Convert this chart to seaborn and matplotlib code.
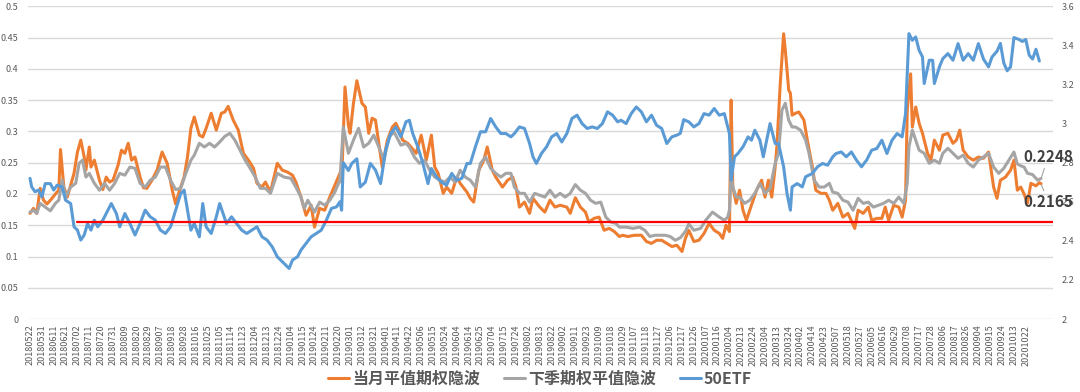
import numpy as np
import seaborn as sns
import matplotlib.pyplot as plt
from matplotlib.lines import Line2D

# trading-day tick labels, one every 7 trading days
dates = ['20180522', '20180531', '20180611', '20180621', '20180702', '20180711', '20180720', '20180731',
         '20180809', '20180820', '20180829', '20180907', '20180918', '20180928', '20181016', '20181025',
         '20181105', '20181114', '20181123', '20181204', '20181213', '20181224', '20190104', '20190115',
         '20190124', '20190211', '20190220', '20190301', '20190312', '20190321', '20190401', '20190411',
         '20190422', '20190506', '20190515', '20190524', '20190604', '20190614', '20190625', '20190704',
         '20190715', '20190724', '20190802', '20190813', '20190822', '20190902', '20190911', '20190923',
         '20191009', '20191018', '20191029', '20191107', '20191118', '20191127', '20191206', '20191217',
         '20191226', '20200107', '20200116', '20200204', '20200213', '20200224', '20200304', '20200313',
         '20200324', '20200402', '20200414', '20200423', '20200507', '20200518', '20200527', '20200605',
         '20200616', '20200629', '20200708', '20200717', '20200728', '20200806', '20200817', '20200826',
         '20200904', '20200915', '20200924', '20201013', '20201022']

# 当月平值期权隐波 (trading-day index, value)
m1_idx = [0, 2, 4, 6, 8, 10, 13, 15, 17, 18, 20, 22, 26, 28, 30, 32, 33, 35, 36, 38, 41, 43, 45, 47, 49,
          52, 54, 56, 58, 60, 62, 65, 67, 69, 72, 75, 78, 81, 84, 86, 88, 91, 93, 95, 97, 100, 102, 104,
          107, 110, 113, 115, 117, 120, 123, 126, 129, 132, 134, 137, 139, 142, 146, 149, 152, 155, 157,
          160, 163, 166, 168, 171, 174, 177, 180, 183, 184, 186, 188, 189, 191, 193, 196, 198, 200, 202,
          204, 206, 208, 211, 214, 216, 218, 220, 223, 225, 228, 231, 234, 237, 239, 241, 244, 246, 249,
          252, 254, 258, 260, 262, 265, 268, 270, 273, 275, 279, 282, 285, 287, 289, 292, 295, 297, 301,
          304, 307, 310, 313, 317, 319, 322, 325, 328, 330, 333, 336, 339, 342, 345, 348, 350, 353, 357,
          361, 364, 367, 370, 373, 376, 379, 382, 385, 387, 389, 392, 395, 398, 401, 404, 407, 409, 411,
          413, 414, 415, 417, 419, 421, 423, 426, 429, 432, 434, 436, 438, 440, 441, 443, 445, 446, 448,
          449, 450, 452, 454, 457, 459, 462, 464, 467, 470, 472, 474, 477, 480, 483, 487, 489, 492, 495,
          497, 500, 503, 505, 507, 510, 513, 515, 517, 518, 520, 521, 523, 525, 527, 530, 532, 534, 537,
          539, 542, 545, 547, 549, 551, 554, 557, 560, 563, 566, 569, 571, 573, 576, 579, 581, 583, 585,
          587, 589, 591, 594, 596, 597]
m1_val = [0.169, 0.177, 0.169, 0.209, 0.19, 0.184, 0.193, 0.2, 0.206, 0.271, 0.211, 0.195, 0.233, 0.267,
          0.286, 0.259, 0.238, 0.275, 0.243, 0.254, 0.222, 0.207, 0.227, 0.219, 0.222, 0.246, 0.27, 0.265,
          0.281, 0.254, 0.259, 0.227, 0.21, 0.209, 0.222, 0.238, 0.267, 0.249, 0.206, 0.184, 0.203, 0.227,
          0.259, 0.305, 0.323, 0.294, 0.291, 0.305, 0.329, 0.302, 0.329, 0.331, 0.34, 0.318, 0.302, 0.265,
          0.254, 0.241, 0.217, 0.211, 0.219, 0.203, 0.249, 0.238, 0.235, 0.23, 0.219, 0.195, 0.166, 0.182,
          0.147, 0.177, 0.174, 0.195, 0.214, 0.233, 0.219, 0.371, 0.31, 0.297, 0.345, 0.381, 0.345, 0.339,
          0.297, 0.321, 0.318, 0.281, 0.243, 0.286, 0.307, 0.313, 0.302, 0.286, 0.281, 0.275, 0.265, 0.294,
          0.254, 0.294, 0.243, 0.233, 0.201, 0.211, 0.201, 0.227, 0.217, 0.203, 0.193, 0.187, 0.238, 0.254,
          0.275, 0.238, 0.227, 0.211, 0.222, 0.227, 0.211, 0.179, 0.187, 0.169, 0.193, 0.179, 0.171, 0.19,
          0.179, 0.182, 0.179, 0.169, 0.194, 0.179, 0.171, 0.155, 0.161, 0.163, 0.142, 0.145, 0.14, 0.132,
          0.134, 0.132, 0.134, 0.134, 0.124, 0.121, 0.126, 0.126, 0.121, 0.116, 0.118, 0.108, 0.129, 0.142,
          0.124, 0.126, 0.137, 0.153, 0.142, 0.137, 0.129, 0.15, 0.14, 0.35, 0.211, 0.185, 0.206, 0.174,
          0.158, 0.182, 0.206, 0.222, 0.195, 0.222, 0.195, 0.243, 0.275, 0.376, 0.456, 0.43, 0.366, 0.361,
          0.326, 0.329, 0.331, 0.318, 0.286, 0.243, 0.206, 0.201, 0.201, 0.19, 0.174, 0.185, 0.163, 0.169,
          0.145, 0.174, 0.169, 0.179, 0.158, 0.161, 0.161, 0.179, 0.158, 0.182, 0.179, 0.163, 0.19, 0.334,
          0.392, 0.307, 0.339, 0.313, 0.297, 0.265, 0.254, 0.286, 0.27, 0.294, 0.297, 0.281, 0.286, 0.302,
          0.27, 0.259, 0.254, 0.259, 0.257, 0.267, 0.211, 0.193, 0.222, 0.227, 0.238, 0.254, 0.206, 0.211,
          0.2, 0.185, 0.217, 0.213, 0.218, 0.2165]

# 下季期权平值隐波
q_idx = [0, 2, 4, 6, 9, 12, 15, 17, 19, 21, 24, 27, 29, 31, 33, 35, 38, 41, 44, 47, 50, 53, 56, 59, 62,
         65, 68, 71, 74, 77, 80, 83, 86, 89, 92, 95, 97, 100, 103, 106, 109, 112, 115, 118, 121, 124, 127,
         130, 133, 136, 139, 142, 146, 150, 154, 157, 160, 162, 164, 168, 171, 174, 177, 180, 183, 185,
         188, 191, 194, 197, 200, 203, 206, 209, 212, 215, 219, 222, 224, 227, 230, 233, 236, 239, 242,
         245, 248, 251, 254, 257, 260, 263, 266, 269, 272, 275, 278, 281, 284, 286, 289, 292, 295, 298,
         301, 304, 307, 310, 313, 316, 319, 322, 325, 328, 331, 334, 337, 340, 343, 346, 348, 352, 356,
         360, 363, 366, 369, 372, 375, 378, 381, 384, 387, 389, 392, 396, 399, 403, 407, 410, 412, 413,
         414, 415, 417, 419, 422, 425, 428, 431, 434, 437, 440, 442, 444, 446, 448, 450, 452, 455, 458,
         460, 463, 466, 469, 472, 474, 477, 480, 483, 486, 489, 492, 495, 498, 501, 504, 507, 510, 513,
         516, 518, 519, 521, 523, 525, 528, 531, 534, 537, 539, 542, 545, 548, 551, 554, 557, 560, 563,
         566, 569, 572, 575, 578, 581, 583, 585, 587, 589, 592, 595, 597]
q_val = [0.171, 0.174, 0.169, 0.185, 0.179, 0.173, 0.185, 0.19, 0.222, 0.195, 0.211, 0.217, 0.249, 0.254,
         0.227, 0.233, 0.217, 0.206, 0.217, 0.206, 0.217, 0.233, 0.23, 0.243, 0.241, 0.217, 0.211, 0.222,
         0.227, 0.243, 0.243, 0.222, 0.207, 0.209, 0.233, 0.254, 0.262, 0.281, 0.275, 0.281, 0.275, 0.283,
         0.292, 0.297, 0.286, 0.27, 0.254, 0.241, 0.227, 0.209, 0.209, 0.201, 0.233, 0.227, 0.225, 0.211,
         0.195, 0.177, 0.19, 0.171, 0.187, 0.182, 0.19, 0.203, 0.222, 0.307, 0.265, 0.286, 0.305, 0.275,
         0.281, 0.294, 0.275, 0.254, 0.291, 0.299, 0.278, 0.281, 0.275, 0.259, 0.249, 0.254, 0.238, 0.227,
         0.222, 0.219, 0.227, 0.219, 0.238, 0.227, 0.222, 0.211, 0.249, 0.259, 0.241, 0.233, 0.227, 0.233,
         0.233, 0.211, 0.201, 0.201, 0.187, 0.201, 0.198, 0.195, 0.206, 0.195, 0.201, 0.195, 0.201, 0.215,
         0.206, 0.201, 0.19, 0.185, 0.187, 0.163, 0.155, 0.153, 0.147, 0.147, 0.145, 0.147, 0.142, 0.132,
         0.134, 0.134, 0.134, 0.132, 0.126, 0.13, 0.14, 0.152, 0.142, 0.145, 0.158, 0.171, 0.163, 0.158,
         0.163, 0.174, 0.233, 0.211, 0.195, 0.195, 0.185, 0.19, 0.201, 0.217, 0.201, 0.209, 0.249, 0.265,
         0.334, 0.345, 0.318, 0.307, 0.307, 0.302, 0.286, 0.265, 0.222, 0.211, 0.211, 0.217, 0.203, 0.201,
         0.19, 0.187, 0.174, 0.193, 0.185, 0.187, 0.179, 0.182, 0.185, 0.19, 0.185, 0.195, 0.185, 0.217,
         0.275, 0.302, 0.286, 0.27, 0.265, 0.249, 0.254, 0.249, 0.265, 0.273, 0.265, 0.257, 0.262, 0.249,
         0.243, 0.254, 0.259, 0.265, 0.243, 0.233, 0.241, 0.254, 0.267, 0.248, 0.245, 0.243, 0.233, 0.231,
         0.222, 0.2248]

# 50ETF price (right axis)
etf_idx = [0, 1, 3, 5, 7, 9, 12, 14, 16, 19, 21, 24, 26, 28, 30, 32, 34, 36, 38, 40, 43, 46, 48, 51, 53,
           56, 59, 62, 65, 68, 71, 74, 77, 80, 83, 86, 89, 91, 93, 95, 97, 100, 102, 104, 107, 110, 112,
           114, 116, 119, 122, 125, 128, 131, 134, 137, 140, 143, 146, 150, 153, 155, 158, 160, 163, 166,
           169, 172, 175, 178, 181, 183, 184, 185, 188, 190, 193, 195, 198, 201, 204, 207, 210, 213, 216,
           219, 222, 224, 226, 229, 232, 235, 237, 240, 243, 246, 249, 252, 255, 258, 260, 263, 266, 269,
           272, 275, 278, 281, 284, 286, 289, 292, 295, 297, 299, 302, 305, 308, 311, 314, 317, 320, 323,
           326, 329, 332, 335, 338, 341, 344, 347, 349, 352, 355, 358, 361, 364, 367, 370, 373, 376, 379,
           382, 384, 386, 389, 392, 395, 398, 401, 404, 407, 410, 413, 414, 416, 418, 421, 424, 426, 428,
           431, 433, 435, 437, 440, 442, 445, 447, 449, 450, 453, 456, 458, 462, 465, 468, 471, 474, 476,
           479, 482, 485, 488, 491, 494, 497, 500, 503, 506, 509, 512, 515, 517, 519, 521, 523, 525, 527,
           528, 531, 533, 534, 537, 539, 542, 545, 548, 551, 554, 557, 560, 563, 566, 568, 571, 573, 575,
           577, 579, 581, 584, 586, 588, 590, 592, 594, 596]
etf_val = [2.72, 2.676, 2.651, 2.66, 2.625, 2.693, 2.693, 2.66, 2.685, 2.676, 2.608, 2.591, 2.472, 2.455,
           2.404, 2.43, 2.489, 2.455, 2.506, 2.472, 2.506, 2.557, 2.591, 2.54, 2.472, 2.54, 2.489, 2.43,
           2.489, 2.557, 2.523, 2.506, 2.455, 2.438, 2.472, 2.557, 2.642, 2.66, 2.557, 2.455, 2.489, 2.421,
           2.591, 2.472, 2.438, 2.523, 2.591, 2.54, 2.489, 2.523, 2.489, 2.455, 2.438, 2.455, 2.472, 2.421,
           2.404, 2.37, 2.319, 2.285, 2.259, 2.302, 2.319, 2.353, 2.387, 2.421, 2.438, 2.455, 2.506, 2.566,
           2.574, 2.6, 2.557, 2.8, 2.76, 2.796, 2.82, 2.676, 2.7, 2.796, 2.762, 2.693, 2.864, 2.949, 2.983,
           2.932, 3.009, 3.017, 2.949, 2.881, 2.796, 2.693, 2.77, 2.728, 2.7, 2.685, 2.745, 2.71, 2.72, 2.796,
           2.796, 2.881, 2.958, 2.958, 3.026, 2.983, 2.949, 2.949, 2.932, 2.949, 2.983, 2.975, 2.898, 2.83,
           2.796, 2.847, 2.881, 2.932, 2.949, 2.906, 2.949, 3.026, 3.043, 3.0, 2.975, 2.983, 2.975, 3.0,
           3.06, 3.043, 3.009, 3.017, 3.0, 3.051, 3.085, 3.06, 3.009, 3.043, 2.991, 2.975, 2.898, 2.932,
           2.941, 2.95, 3.02, 3.009, 2.983, 3.0, 3.051, 3.043, 3.077, 3.043, 3.051, 2.949, 2.711, 2.83,
           2.847, 2.881, 2.932, 2.915, 2.966, 2.915, 2.83, 2.915, 3.0, 2.898, 2.898, 2.779, 2.642, 2.557,
           2.676, 2.693, 2.676, 2.728, 2.745, 2.779, 2.796, 2.787, 2.83, 2.847, 2.855, 2.83, 2.855, 2.813,
           2.779, 2.813, 2.864, 2.872, 2.915, 2.847, 2.915, 2.949, 2.932, 3.051, 3.46, 3.426, 3.443, 3.375,
           3.341, 3.205, 3.324, 3.324, 3.205, 3.29, 3.332, 3.358, 3.324, 3.409, 3.324, 3.358, 3.324, 3.409,
           3.33, 3.29, 3.34, 3.37, 3.41, 3.31, 3.27, 3.29, 3.44, 3.43, 3.42, 3.43, 3.35, 3.33, 3.38, 3.32]

red_level = 0.155
red_start = 28  # 20180702

sns.set_theme(style="white")
plt.rcParams['font.family'] = ['Noto Sans CJK SC', 'DejaVu Sans']

c_m1 = '#ED7D31'
c_q = '#A5A5A5'
c_etf = '#5B9BD5'
txt = '#595959'

fig = plt.figure(figsize=(10.8, 3.92), dpi=100)
ax = fig.add_axes([0.0259, 0.186, 0.949, 0.798])
ax2 = ax.twinx()

sns.lineplot(x=m1_idx, y=m1_val, ax=ax, color=c_m1, linewidth=2.2, estimator=None, legend=False)
sns.lineplot(x=q_idx, y=q_val, ax=ax, color=c_q, linewidth=2.2, estimator=None, legend=False)
sns.lineplot(x=etf_idx, y=etf_val, ax=ax2, color=c_etf, linewidth=2.2, estimator=None, legend=False)

xmax = 604
ax.set_xlim(-1.2, xmax)
ax.set_ylim(0, 0.5)
ax2.set_ylim(2, 3.6)
ax.set_yticks(np.arange(0, 0.501, 0.05))
ax.set_yticklabels(['0', '0.05', '0.1', '0.15', '0.2', '0.25', '0.3', '0.35', '0.4', '0.45', '0.5'])
ax2.set_yticks(np.arange(2, 3.61, 0.2))
ax2.set_yticklabels(['2', '2.2', '2.4', '2.6', '2.8', '3', '3.2', '3.4', '3.6'])

ax.set_xticks(np.arange(len(dates)) * 7)
ax.set_xticklabels(dates, rotation=90)

ax.yaxis.grid(True, color='#D9D9D9', linewidth=1.0)
ax.xaxis.grid(False)
ax.set_axisbelow(True)
ax.set_xlabel('')
ax.set_ylabel('')
ax2.set_ylabel('')
for a in (ax, ax2):
    for s in a.spines.values():
        s.set_visible(False)
    a.tick_params(length=0, labelsize=6.5, labelcolor=txt)
ax.tick_params(axis='y', pad=7)
ax2.tick_params(axis='y', pad=6.5)
ax.tick_params(axis='x', pad=4)

# red reference line, drawn over all series
ax2.add_line(Line2D([red_start, xmax], [red_level, red_level], transform=ax.transData,
                    color='#FF0000', linewidth=1.6, zorder=5))

# end-value labels
ax2.annotate(f'{q_val[-1]:.4f}', xy=(q_idx[-1], q_val[-1]), xycoords=ax.transData,
             xytext=(586.5, 0.259), textcoords=ax.transData, ha='left', va='center',
             fontsize=11, fontweight='bold', color='#404040', zorder=6,
             arrowprops=dict(arrowstyle='-', color='#A6A6A6', lw=0.8, shrinkA=8, shrinkB=1))
ax2.annotate(f'{m1_val[-1]:.4f}', xy=(m1_idx[-1], m1_val[-1]), xycoords=ax.transData,
             xytext=(586.5, 0.187), textcoords=ax.transData, ha='left', va='center',
             fontsize=11, fontweight='bold', color='#404040', zorder=6,
             arrowprops=dict(arrowstyle='-', color='#A6A6A6', lw=0.8, shrinkA=8, shrinkB=1))

handles = [Line2D([], [], color=c_m1, lw=2.2), Line2D([], [], color=c_q, lw=2.2),
           Line2D([], [], color=c_etf, lw=2.2)]
labels = ['当月平值期权隐波', '下季期权平值隐波', '50ETF']
leg = fig.legend(handles, labels, loc='center', bbox_to_anchor=(0.5, 0.033), ncol=3, frameon=False,
                 fontsize=11.5, handlelength=1.3, handletextpad=0.2, columnspacing=1.5)
for t in leg.get_texts():
    t.set_color(txt)
    t.set_fontweight('bold')

fig.savefig('out.png', dpi=100)
